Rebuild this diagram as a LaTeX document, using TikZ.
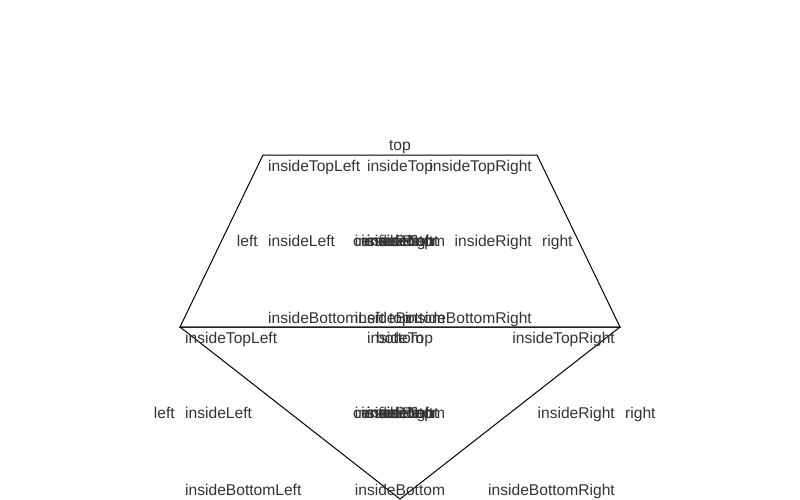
\documentclass[tikz,border=0pt]{standalone}
\usepackage{fontspec}
\setmainfont{Liberation Sans}
\definecolor{labelgray}{HTML}{333333}
\begin{document}
\begin{tikzpicture}[x=1pt,y=-1pt,
  lbl/.style={inner sep=0pt,text=labelgray,font=\fontsize{15.6}{18}\selectfont},
  lw/.style={lbl,anchor=base west},
  lc/.style={lbl,anchor=base},
  le/.style={lbl,anchor=base east},
  outline/.style={draw=black,line width=1pt,line join=miter}]
\useasboundingbox (0,0) rectangle (800,500);

% corners of the two polygons
\coordinate (tA) at (263,155);
\coordinate (tB) at (537,155);
\coordinate (tC) at (620,327);
\coordinate (tD) at (180,327);
\coordinate (vA) at (400,499);

% trapezoid and triangle
\draw[outline] (tA) -- (tB) -- (tC) -- (tD) -- cycle;
\draw[outline] (tD) -- (tC) -- (vA) -- cycle;

% trapezoid labels
\node[lc] (pTop) at (400,150.5) {top};
\node[lw] (pITL) at (268,171.5) {insideTopLeft};
\node[lc] (pIT) at (400,171.5) {insideTop};
\node[le] (pITR) at (532,171.5) {insideTopRight};
\node[le] (pL) at (258,246.5) {left};
\node[lw] (pIL) at (268,246.5) {insideLeft};
\node[lw] (pCen) at (353,246.5) {center};
\node[lc] (pIn) at (400,246.5) {inside};
\node[lc] (pInT) at (400,246.5) {insideTop};
\node[lc] (pInL) at (400,246.5) {insideLeft};
\node[lc] (pInR) at (400,246.5) {insideRight};
\node[lc] (pInB) at (400,246.5) {insideBottom};
\node[le] (pIR) at (532,246.5) {insideRight};
\node[lw] (pR) at (542,246.5) {right};
\node[lw] (pIBL) at (268,323.5) {insideBottomLeft};
\node[lc] (pIB) at (400,323.5) {insideBottom};
\node[le] (pIBR) at (532,323.5) {insideBottomRight};
\node[lc] (pBot) at (400,343.5) {bottom};

% triangle labels
\node[lc] (gTop) at (400,323.5) {top};
\node[lw] (gITL) at (185,343.5) {insideTopLeft};
\node[lc] (gIT) at (400,343.5) {insideTop};
\node[le] (gITR) at (615,343.5) {insideTopRight};
\node[le] (gL) at (175,418.5) {left};
\node[lw] (gIL) at (185,418.5) {insideLeft};
\node[lw] (gCen) at (353,418.5) {center};
\node[lc] (gIn) at (400,418.5) {inside};
\node[lc] (gInT) at (400,418.5) {insideTop};
\node[lc] (gInL) at (400,418.5) {insideLeft};
\node[lc] (gInR) at (400,418.5) {insideRight};
\node[lc] (gInB) at (400,418.5) {insideBottom};
\node[le] (gIR) at (615,418.5) {insideRight};
\node[lw] (gR) at (625,418.5) {right};
\node[lw] (gIBL) at (185,495.5) {insideBottomLeft};
\node[lc] (gIB) at (400,495.5) {insideBottom};
\node[le] (gIBR) at (615,495.5) {insideBottomRight};
\end{tikzpicture}
\end{document}
